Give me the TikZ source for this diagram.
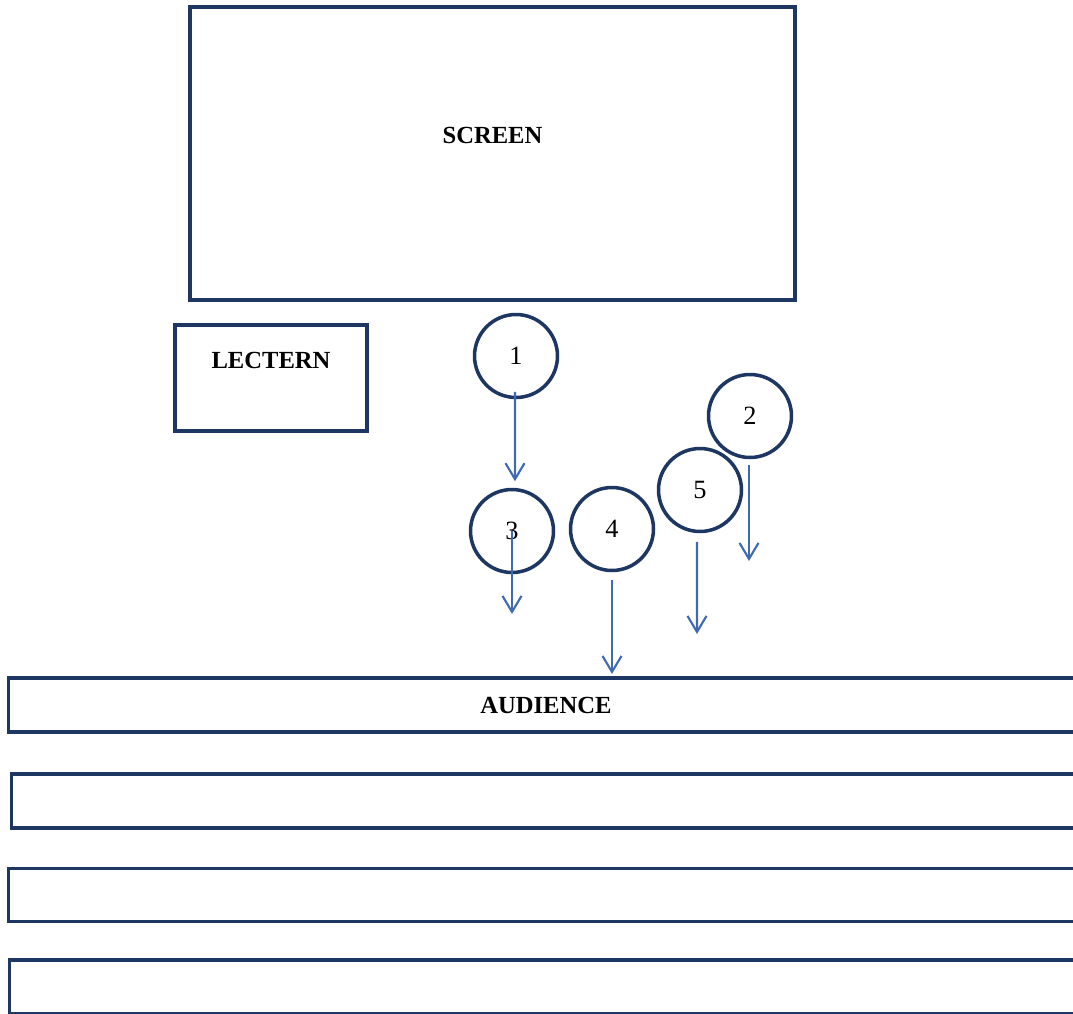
\documentclass[tikz,border=0pt]{standalone}
\usepackage{fontspec}
\setmainfont{Liberation Serif}
\usetikzlibrary{arrows.meta}
\definecolor{navy}{RGB}{30,55,98}
\definecolor{walk}{RGB}{62,106,178}
\tikzset{
  room/.style={
    draw=navy,
    line width=1.8pt,
    font=\bfseries\fontsize{14}{16}\selectfont
  },
  spot/.style={
    draw=navy,
    line width=2pt,
    circle,
    minimum size=1.66cm,
    inner sep=0pt,
    font=\fontsize{15}{17}\selectfont
  },
  move/.style={
    -{Straight Barb[length=3.2mm,width=3.8mm,line width=1.2pt]},
    draw=walk,
    line width=1.3pt
  }
}

\begin{document}
\begin{tikzpicture}[x=0.02cm,y=-0.02cm]
  \path[use as bounding box, clip] (0,0) rectangle (1073,1014);

  % front of the room
  \node[room, minimum width=12.1cm, minimum height=5.86cm,
    label={[room, draw=none, yshift=0.37cm]center:SCREEN}] (screen) at (492.5,153.5) {};
  \node[room, minimum width=3.84cm, minimum height=2.12cm,
    label={[room, draw=none, yshift=0.36cm]center:LECTERN}] (lectern) at (271,378) {};

  % speaker positions
  \node[spot] (p1) at (516,356) {1};
  \node[spot] (p2) at (750,416) {2};
  \node[spot] (p3) at (512,531) {3};
  \node[spot] (p4) at (612,529) {4};
  \node[spot] (p5) at (700,490) {5};

  \coordinate (e2) at (749,561);
  \coordinate (e3) at (512,614);
  \coordinate (e4) at (612,674);
  \coordinate (e5) at (697,634);

  \draw[move] ([xshift=-0.02cm,yshift=0.15cm]p1.south) -- ([xshift=0.06cm,yshift=0.13cm]p3.north);
  \draw[move] ([xshift=-0.02cm,yshift=-0.11cm]p2.south) -- (e2);
  \draw[move] (p3.center) -- (e3);
  \draw[move] ([yshift=-0.15cm]p4.south) -- (e4);
  \draw[move] ([xshift=-0.06cm,yshift=-0.17cm]p5.south) -- (e5);

  % seating rows
  \node[room, minimum width=21.52cm, minimum height=1.08cm] (row1) at (546,705) {AUDIENCE};
  \node[room, minimum width=21.48cm, minimum height=1.08cm] (row2) at (548,801) {};
  \node[room, minimum width=21.52cm, minimum height=1.06cm] (row3) at (546,895) {};
  \node[room, minimum width=21.5cm, minimum height=1.08cm] (row4) at (547,987) {};
\end{tikzpicture}
\end{document}
